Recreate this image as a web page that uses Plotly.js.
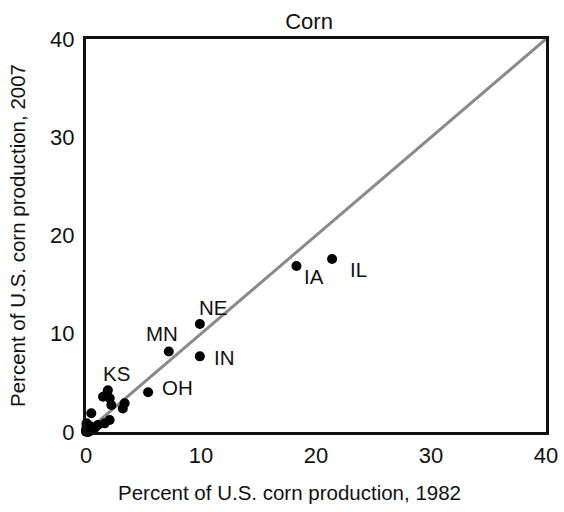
<!DOCTYPE html>
<html>
<head>
<meta charset="utf-8">
<script src="https://cdn.plot.ly/plotly-3.0.1.min.js"></script>
<style>html,body{margin:0;padding:0;background:#fff;}#chart{width:564px;height:512px;}</style>
</head>
<body>
<div id="chart"></div>
<script>
// Labeled states
const labStates = ["IL", "IA", "NE", "MN", "IN", "OH", "KS"];
const labX1982 = [21.4, 18.3, 9.9, 7.2, 9.9, 5.4, 1.9];
const labY2007 = [17.6, 16.9, 11.0, 8.2, 7.7, 4.05, 4.25];
// Unlabeled states
const otherX1982 = [1.77, 1.48, 2.06, 2.2, 3.36, 3.2, 0.46, 2.06, 1.62, 1.04, 0.05, 0.0, 0.46, 0.17, 0.0, 0.1, 0.25, 0.3, 0.05, 0.6, 0.8, 0.15, 0.02, 0.35, 0.1];
const otherY2007 = [3.76, 3.59, 3.43, 2.75, 2.92, 2.4, 1.9, 1.22, 0.88, 0.71, 0.88, 0.2, 0.37, 0.0, 0.03, 0.5, 0.15, 0.05, 0.6, 0.25, 0.45, 0.3, 0.1, 0.6, 0.05];
const refLine = [0, 40];
const axisTicks = [0, 10, 20, 30, 40];
const xTitle = "Percent of U.S. corn production, 1982";
const yTitle = "Percent of U.S. corn production, 2007";

// label offsets (pixel styles)
const offX = [26, 18, 13, -7, 25, 29, 9];
const offY = [-10, -11, 16, 18, -1, 5, 17];

const fam = "Liberation Sans, Arial, sans-serif";
const textFont = {family: fam, size: 20.5, color: "#111"};
const tickFont = {family: fam, size: 22, color: "#111"};

const traces = [
  {x: refLine, y: refLine, mode: "lines", line: {color: "#8a8a8a", width: 3}, hoverinfo: "skip", cliponaxis: false},
  {x: otherX1982, y: otherY2007, mode: "markers", marker: {color: "#000", size: 10}, cliponaxis: false},
  {x: labX1982, y: labY2007, mode: "markers", marker: {color: "#000", size: 10}, cliponaxis: false}
];

const annotations = labStates.map((s, i) => ({
  x: labX1982[i], y: labY2007[i], xref: "x", yref: "y", text: s, showarrow: false,
  xshift: offX[i], yshift: offY[i], font: textFont
}));
annotations.push({
  text: xTitle, xref: "paper", yref: "paper", x: 0.443, y: -0.155,
  xanchor: "center", yanchor: "middle", showarrow: false, font: textFont
});

const layout = {
  width: 564, height: 512,
  margin: {l: 86, r: 18, t: 39, b: 80},
  paper_bgcolor: "#fff", plot_bgcolor: "#fff",
  showlegend: false,
  title: {text: "Corn", font: {family: fam, size: 22, color: "#111"}, x: 0.548, xanchor: "center", y: 0.958, yanchor: "middle"},
  font: textFont,
  xaxis: {
    range: [0, 40], tickvals: axisTicks, ticktext: axisTicks.map(String),
    showgrid: false, zeroline: false, showline: true, mirror: true, linecolor: "#111", linewidth: 3,
    ticks: "", ticklabelstandoff: 2, tickfont: tickFont
  },
  yaxis: {
    range: [0, 40], tickvals: axisTicks, ticktext: axisTicks.map(String),
    showgrid: false, zeroline: false, showline: true, mirror: true, linecolor: "#111", linewidth: 3,
    ticks: "", ticklabelstandoff: 4, tickfont: tickFont,
    title: {text: yTitle, font: textFont, standoff: 19}
  },
  annotations: annotations
};

Plotly.newPlot("chart", traces, layout, {displayModeBar: false, staticPlot: true});
</script>
</body>
</html>
